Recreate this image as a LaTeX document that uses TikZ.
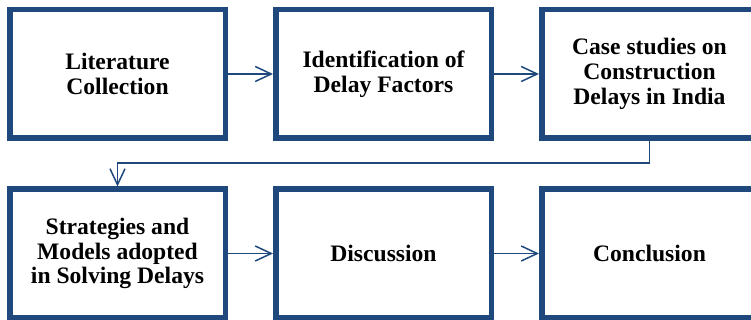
\documentclass[tikz,border=0pt]{standalone}
\usepackage{fontspec}
\setmainfont{Liberation Serif}
\usepackage{tikz}
\usetikzlibrary{arrows.meta, positioning}
\definecolor{boxblue}{RGB}{31,73,125}

\begin{document}
\begin{tikzpicture}[every node/.style={minimum height=64.25pt, minimum width=107.75pt}, node distance=133pt, stage/.style={draw=boxblue, line width=2.75pt, align=center, font=\bfseries\fontsize{11.8}{12.4}\selectfont}, post/.style={-{Straight Barb[length=8pt,width=7.5pt]}, draw=boxblue, line width=0.75pt}]

				\useasboundingbox (0,0) rectangle (375.5pt,-160pt);

				\node [stage] (LC) at (58.75pt,-37pt)
					{Literature\\Collection};

				\node [stage] (IDF) [right of=LC]
					{Identification of\\Delay Factors};

				\node [stage] (CSI) [right of=IDF]
					{Case studies on\\Construction\\Delays in India};

				\node [stage] (SMD) [node distance=89.75pt, below of=LC]
					{Strategies and\\Models adopted\\in Solving Delays};

				\node [stage] (D) [right of=SMD]
					{Discussion};

				\node [stage] (C) [right of=D]
					{Conclusion};

				\draw[post] (LC) edge (IDF);
				\draw[post] (IDF) edge (CSI);
				\draw[post] (CSI.south) -- ++(0,-11pt) -| (SMD.north);
				\draw[post] (SMD) edge (D);
				\draw[post] (D) edge (C);

			\end{tikzpicture}
\end{document}
